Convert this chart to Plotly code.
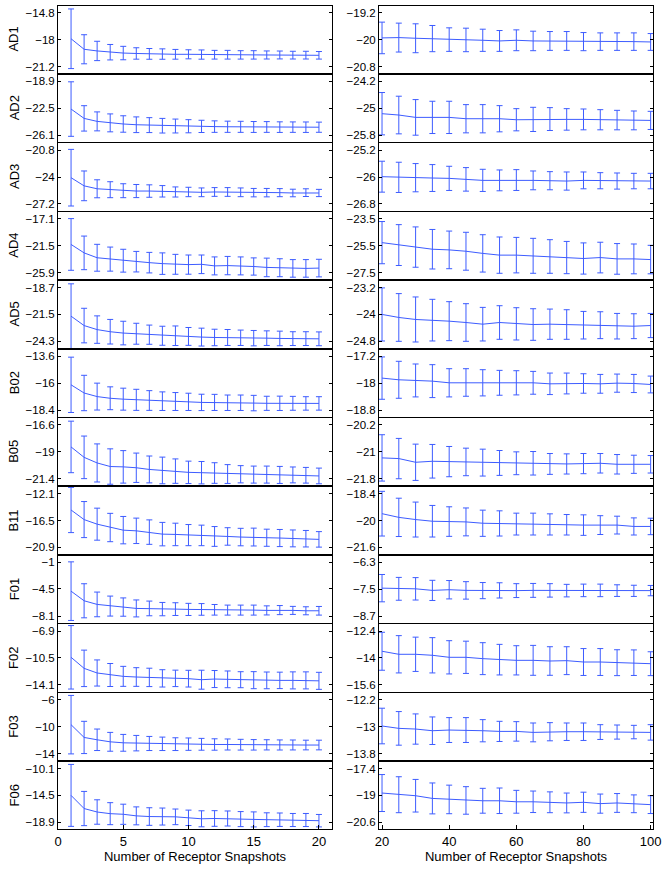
import plotly.graph_objects as go

systems = ["AD1", "AD2", "AD3", "AD4", "AD5", "B02", "B05", "B11", "F01", "F02", "F03", "F06"]

x_left = list(range(1, 21))
x_right = list(range(20, 101, 5))

# ---- left column: 1..20 snapshots ----
ad1_l = [-17.9, -19.15, -19.35, -19.5, -19.6, -19.65, -19.7, -19.72, -19.75, -19.75,
         -19.78, -19.8, -19.8, -19.82, -19.82, -19.83, -19.83, -19.85, -19.85, -19.87]
ad1_l_err = [3.55, 1.73, 1.15, 0.92, 0.8, 0.68, 0.64, 0.62, 0.58, 0.54,
             0.55, 0.52, 0.52, 0.5, 0.5, 0.48, 0.47, 0.46, 0.46, 0.45]
ad2_l = [-22.6, -23.85, -24.25, -24.45, -24.6, -24.7, -24.75, -24.83, -24.87, -24.9,
         -24.92, -24.95, -24.97, -24.98, -25.0, -25.0, -25.02, -25.02, -25.03, -25.03]
ad2_l_err = [3.65, 1.7, 1.27, 1.2, 1.1, 1.05, 1.0, 0.98, 0.93, 0.88,
             0.82, 0.77, 0.75, 0.74, 0.73, 0.72, 0.71, 0.7, 0.7, 0.68]
ad3_l = [-24.08, -25.05, -25.4, -25.51, -25.63, -25.67, -25.67, -25.7, -25.78, -25.78,
         -25.82, -25.78, -25.78, -25.82, -25.86, -25.86, -25.86, -25.9, -25.86, -25.9]
ad3_l_err = [3.37, 1.77, 1.07, 0.95, 0.83, 0.78, 0.74, 0.68, 0.6, 0.56,
             0.52, 0.52, 0.52, 0.52, 0.5, 0.5, 0.48, 0.45, 0.46, 0.43]
ad4_l = [-21.29, -22.67, -23.47, -23.69, -23.95, -24.11, -24.27, -24.43, -24.54, -24.59,
         -24.54, -24.8, -24.75, -24.8, -24.9, -25.05, -25.1, -25.21, -25.21, -25.16]
ad4_l_err = [4.23, 2.75, 2.2, 1.97, 1.87, 1.68, 1.68, 1.76, 1.63, 1.57,
             1.52, 1.47, 1.5, 1.47, 1.41, 1.52, 1.47, 1.44, 1.44, 1.44]
ad5_l = [-21.68, -22.66, -23.08, -23.3, -23.44, -23.51, -23.61, -23.72, -23.72, -23.79,
         -23.86, -23.9, -23.9, -23.93, -23.97, -23.97, -24.0, -24.02, -24.02, -24.04]
ad5_l_err = [3.37, 1.8, 1.43, 1.28, 1.23, 1.09, 1.0, 0.99, 1.02, 0.93,
             0.93, 0.86, 0.83, 0.8, 0.8, 0.76, 0.76, 0.72, 0.72, 0.72]
b02_l = [-16.15, -16.88, -17.2, -17.35, -17.43, -17.49, -17.55, -17.61, -17.64, -17.67,
         -17.72, -17.72, -17.75, -17.75, -17.78, -17.8, -17.8, -17.8, -17.81, -17.81]
b02_l_err = [2.47, 1.58, 1.2, 1.02, 0.98, 0.94, 0.88, 0.83, 0.8, 0.77,
             0.73, 0.72, 0.69, 0.69, 0.69, 0.63, 0.64, 0.62, 0.6, 0.6]
b05_l = [-18.56, -19.49, -19.99, -20.31, -20.34, -20.42, -20.57, -20.66, -20.72, -20.83,
         -20.86, -20.89, -20.98, -21.0, -21.03, -21.03, -21.06, -21.06, -21.09, -21.15]
b05_l_err = [2.3, 1.9, 1.7, 1.58, 1.45, 1.31, 1.2, 1.19, 1.09, 1.0,
             1.0, 0.92, 0.84, 0.77, 0.76, 0.76, 0.76, 0.71, 0.7, 0.7]
b11_l = [-14.77, -16.34, -17.09, -17.64, -18.07, -18.18, -18.39, -18.72, -18.77, -18.88,
         -18.93, -19.1, -19.1, -19.2, -19.2, -19.31, -19.36, -19.42, -19.47, -19.58]
b11_l_err = [3.7, 2.95, 2.62, 2.32, 2.24, 2.08, 2.0, 1.92, 1.84, 1.73,
             1.68, 1.62, 1.43, 1.43, 1.46, 1.4, 1.4, 1.38, 1.35, 1.27]
f01_l = [-4.8, -6.07, -6.55, -6.77, -6.9, -7.08, -7.08, -7.17, -7.17, -7.21,
         -7.21, -7.26, -7.3, -7.3, -7.3, -7.34, -7.3, -7.34, -7.39, -7.39]
f01_l_err = [3.87, 2.25, 1.63, 1.32, 1.21, 1.12, 0.97, 0.88, 0.84, 0.8,
             0.77, 0.7, 0.66, 0.66, 0.66, 0.6, 0.6, 0.53, 0.53, 0.57]
f02_l = [-10.41, -11.89, -12.51, -12.78, -12.96, -13.05, -13.1, -13.23, -13.23, -13.27,
         -13.41, -13.32, -13.36, -13.41, -13.47, -13.5, -13.5, -13.5, -13.5, -13.56]
f02_l_err = [4.25, 2.44, 1.75, 1.54, 1.34, 1.25, 1.23, 1.16, 1.1, 1.12,
             1.27, 1.14, 1.12, 1.07, 1.14, 1.12, 1.1, 1.14, 1.14, 1.14]
f03_l = [-9.7, -11.6, -11.95, -12.25, -12.4, -12.45, -12.5, -12.55, -12.6, -12.6,
         -12.62, -12.65, -12.65, -12.68, -12.7, -12.7, -12.72, -12.72, -12.73, -12.73]
f03_l_err = [4.35, 2.4, 1.6, 1.4, 1.25, 1.15, 1.05, 1.0, 0.95, 0.92,
             0.88, 0.85, 0.82, 0.8, 0.78, 0.76, 0.75, 0.74, 0.72, 0.72]
f06_l = [-14.5, -16.65, -17.22, -17.49, -17.59, -17.85, -17.96, -17.96, -18.01, -18.17,
         -18.33, -18.28, -18.28, -18.38, -18.43, -18.48, -18.48, -18.53, -18.53, -18.64]
f06_l_err = [5.07, 2.8, 2.0, 1.8, 1.65, 1.47, 1.44, 1.39, 1.28, 1.26,
             1.31, 1.28, 1.23, 1.23, 1.23, 1.13, 1.1, 1.07, 1.07, 1.02]

# ---- right column: 20..100 snapshots ----
ad1_r = [-19.95, -19.94, -19.96, -19.97, -20.0, -20.01, -20.02, -20.04, -20.02,
         -20.04, -20.04, -20.04, -20.06, -20.06, -20.06, -20.06, -20.07]
ad1_r_err = [0.47, 0.43, 0.43, 0.39, 0.35, 0.35, 0.33, 0.31, 0.31,
             0.29, 0.28, 0.28, 0.27, 0.26, 0.26, 0.26, 0.25]
ad2_r = [-25.16, -25.2, -25.27, -25.27, -25.27, -25.31, -25.31, -25.31, -25.34,
         -25.33, -25.32, -25.33, -25.33, -25.34, -25.35, -25.36, -25.36]
ad2_r_err = [0.63, 0.56, 0.53, 0.48, 0.48, 0.42, 0.42, 0.39, 0.33,
             0.36, 0.34, 0.32, 0.31, 0.3, 0.29, 0.28, 0.27]
ad3_r = [-25.99, -26.01, -26.02, -26.03, -26.04, -26.07, -26.1, -26.1, -26.09,
         -26.1, -26.11, -26.12, -26.1, -26.11, -26.12, -26.12, -26.12]
ad3_r_err = [0.46, 0.45, 0.42, 0.4, 0.36, 0.35, 0.33, 0.31, 0.31,
             0.28, 0.27, 0.27, 0.25, 0.24, 0.24, 0.23, 0.23]
ad4_r = [-25.27, -25.45, -25.6, -25.76, -25.81, -25.91, -26.07, -26.2, -26.2,
         -26.25, -26.3, -26.38, -26.45, -26.38, -26.48, -26.48, -26.53]
ad4_r_err = [1.57, 1.52, 1.5, 1.47, 1.4, 1.41, 1.39, 1.35, 1.32,
             1.3, 1.25, 1.2, 1.16, 1.14, 1.14, 1.11, 1.06]
ad5_r = [-24.0, -24.09, -24.15, -24.17, -24.2, -24.24, -24.29, -24.24, -24.28,
         -24.3, -24.29, -24.3, -24.32, -24.32, -24.35, -24.35, -24.33]
ad5_r_err = [0.79, 0.71, 0.67, 0.62, 0.58, 0.56, 0.5, 0.5, 0.48,
             0.47, 0.45, 0.44, 0.41, 0.4, 0.38, 0.37, 0.36]
b02_r = [-17.85, -17.9, -17.92, -17.94, -17.99, -17.98, -17.99, -17.99, -17.99,
         -17.99, -18.02, -18.01, -18.01, -18.02, -18.0, -18.01, -18.04]
b02_r_err = [0.63, 0.55, 0.49, 0.49, 0.42, 0.41, 0.39, 0.37, 0.36,
             0.34, 0.32, 0.31, 0.29, 0.28, 0.27, 0.27, 0.25]
b05_r = [-21.18, -21.2, -21.31, -21.28, -21.29, -21.3, -21.32, -21.33, -21.34,
         -21.34, -21.36, -21.36, -21.35, -21.34, -21.37, -21.37, -21.37]
b05_r_err = [0.69, 0.6, 0.54, 0.5, 0.45, 0.41, 0.4, 0.37, 0.34,
             0.35, 0.31, 0.3, 0.3, 0.29, 0.29, 0.27, 0.26]
b11_r = [-19.59, -19.81, -19.94, -20.04, -20.06, -20.08, -20.16, -20.17, -20.21,
         -20.21, -20.23, -20.25, -20.27, -20.27, -20.27, -20.35, -20.35]
b11_r_err = [1.33, 1.14, 1.04, 0.94, 0.88, 0.83, 0.78, 0.75, 0.65,
             0.65, 0.63, 0.61, 0.61, 0.56, 0.53, 0.51, 0.49]
f01_r = [-7.45, -7.48, -7.48, -7.55, -7.52, -7.55, -7.56, -7.55, -7.56,
         -7.55, -7.55, -7.56, -7.55, -7.55, -7.56, -7.57, -7.56]
f01_r_err = [0.61, 0.51, 0.5, 0.45, 0.41, 0.39, 0.36, 0.34, 0.31,
             0.31, 0.3, 0.28, 0.28, 0.28, 0.26, 0.25, 0.23]
f02_r = [-13.6, -13.78, -13.78, -13.84, -13.96, -13.96, -14.04, -14.1, -14.14,
         -14.14, -14.18, -14.16, -14.24, -14.24, -14.28, -14.28, -14.34]
f02_r_err = [1.13, 1.11, 1.02, 1.05, 0.99, 0.96, 0.95, 0.91, 0.87,
             0.89, 0.85, 0.83, 0.8, 0.8, 0.77, 0.76, 0.71]
f03_r = [-12.98, -13.05, -13.07, -13.12, -13.1, -13.1, -13.12, -13.14, -13.14,
         -13.17, -13.15, -13.15, -13.15, -13.16, -13.16, -13.16, -13.17]
f03_r_err = [0.53, 0.5, 0.45, 0.41, 0.37, 0.37, 0.33, 0.3, 0.29,
             0.28, 0.27, 0.26, 0.26, 0.22, 0.21, 0.2, 0.23]
f06_r = [-18.86, -18.96, -19.02, -19.18, -19.24, -19.3, -19.32, -19.32, -19.38,
         -19.38, -19.41, -19.45, -19.41, -19.49, -19.45, -19.5, -19.55]
f06_r_err = [1.1, 1.07, 0.97, 0.92, 0.85, 0.82, 0.74, 0.76, 0.68,
             0.64, 0.62, 0.59, 0.6, 0.57, 0.56, 0.53, 0.53]

# y tick values [top, middle, bottom] per panel
ticks_left = [[-14.8, -18, -21.2], [-18.9, -22.5, -26.1], [-20.8, -24, -27.2],
              [-17.1, -21.5, -25.9], [-18.7, -21.5, -24.3], [-13.6, -16, -18.4],
              [-16.6, -19, -21.4], [-12.1, -16.5, -20.9], [-1, -4.5, -8.1],
              [-6.9, -10.5, -14.1], [-6, -10, -14], [-10.1, -14.5, -18.9]]
ticks_right = [[-19.2, -20, -20.8], [-24.2, -25, -25.8], [-25.2, -26, -26.8],
               [-23.5, -25.5, -27.5], [-23.2, -24, -24.8], [-17.2, -18, -18.8],
               [-20.2, -21, -21.8], [-18.4, -20, -21.6], [-6.3, -7.5, -8.7],
               [-12.4, -14, -15.6], [-12.2, -13, -13.8], [-17.4, -19, -20.6]]

left_means = [ad1_l, ad2_l, ad3_l, ad4_l, ad5_l, b02_l, b05_l, b11_l, f01_l, f02_l, f03_l, f06_l]
left_errs = [ad1_l_err, ad2_l_err, ad3_l_err, ad4_l_err, ad5_l_err, b02_l_err,
             b05_l_err, b11_l_err, f01_l_err, f02_l_err, f03_l_err, f06_l_err]
right_means = [ad1_r, ad2_r, ad3_r, ad4_r, ad5_r, b02_r, b05_r, b11_r, f01_r, f02_r, f03_r, f06_r]
right_errs = [ad1_r_err, ad2_r_err, ad3_r_err, ad4_r_err, ad5_r_err, b02_r_err,
              b05_r_err, b11_r_err, f01_r_err, f02_r_err, f03_r_err, f06_r_err]

BLUE = "#3d5cff"
FONT = "Liberation Sans"

ml, mr, mt, mb = 58, 14, 6, 41
W, H = 667, 870
pw = W - ml - mr
ph = H - mt - mb
gap = 1.5 / ph
rowh = (1 - 11 * gap) / 12

xdom_left = [0, (332 - ml) / pw]
xdom_right = [(379 - ml) / pw, 1]


def fmt(v):
    s = ("%g" % v)
    return s.replace("-", "\u2212")


fig = go.Figure()
n = len(systems)
for i in range(n):
    top = min(1.0, 1 - i * (rowh + gap))
    ydom = [max(0.0, top - rowh), top]
    for c in range(2):
        k = 2 * i + c + 1
        xa = "x" if k == 1 else "x%d" % k
        ya = "y" if k == 1 else "y%d" % k
        if c == 0:
            xs, ys, es, tv = x_left, left_means[i], left_errs[i], ticks_left[i]
            xrange_, xdom = [0, 21], xdom_left
            xtv = [0, 5, 10, 15, 20]
        else:
            xs, ys, es, tv = x_right, right_means[i], right_errs[i], ticks_right[i]
            xrange_, xdom = [19.1, 100.7], xdom_right
            xtv = [20, 40, 60, 80, 100]
        fig.add_trace(go.Scatter(
            x=xs, y=ys, mode="lines", xaxis=xa, yaxis=ya,
            line=dict(color=BLUE, width=1),
            error_y=dict(type="data", array=es, visible=True,
                         color=BLUE, thickness=1, width=3),
            showlegend=False, hoverinfo="skip"))
        lo, hi = min(tv), max(tv)
        pad = 0.125 * (hi - lo)
        bottom = (i == n - 1)
        xkey = "xaxis" if k == 1 else "xaxis%d" % k
        ykey = "yaxis" if k == 1 else "yaxis%d" % k
        fig.layout[xkey] = dict(
            domain=xdom, range=xrange_, anchor=ya,
            showline=True, mirror=True, linecolor="black", linewidth=1,
            showgrid=False, zeroline=False,
            ticks="inside" if bottom else "", ticklen=4, tickcolor="black",
            tickvals=xtv, showticklabels=bottom,
            tickfont=dict(family=FONT, size=13, color="black"),
            title=dict(text="Number of Receptor Snapshots" if bottom else "",
                       font=dict(family=FONT, size=13, color="black"), standoff=2),
        )
        fig.layout[ykey] = dict(
            domain=ydom, range=[lo - pad, hi + pad], anchor=xa,
            showline=True, mirror="ticks", linecolor="black", linewidth=1,
            showgrid=False, zeroline=False,
            ticks="inside", ticklen=3, tickcolor="black",
            tickmode="array", tickvals=tv, ticktext=[fmt(v) for v in tv],
            tickfont=dict(family=FONT, size=11.5, color="black"),
        )
    fig.add_annotation(
        text=systems[i], xref="paper", yref="paper",
        x=(14 - ml) / pw, y=top - rowh / 2, textangle=-90,
        showarrow=False, xanchor="center", yanchor="middle",
        font=dict(family=FONT, size=13, color="black"))

fig.update_layout(
    width=W, height=H,
    margin=dict(l=ml, r=mr, t=mt, b=mb),
    paper_bgcolor="white", plot_bgcolor="white",
    font=dict(family=FONT, color="black"),
)

fig.write_html("out.html", config={"displayModeBar": False},
               post_script="document.body.style.margin='0';")
